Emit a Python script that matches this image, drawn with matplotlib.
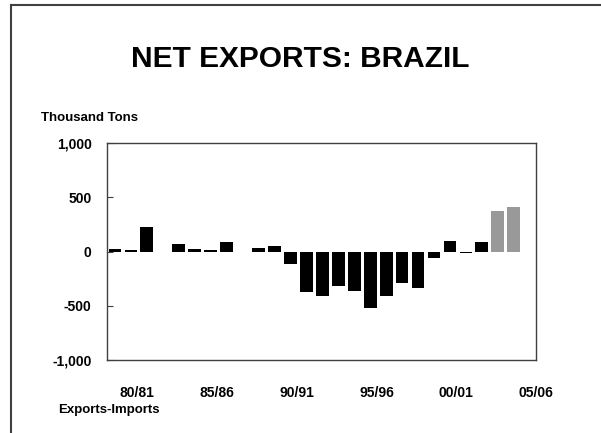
import numpy as np
import matplotlib
matplotlib.use("Agg")
import matplotlib.pyplot as plt
from matplotlib.lines import Line2D

plt.rcParams['font.family'] = ['Liberation Sans', 'DejaVu Sans']

# net exports (thousand tons), 1979/80 .. 2004/05, last two are projections
valores = [20, 12, 225, -5, 65, 25, 15, 90, 0, 30, 55, -115, -375, -410, -315,
           -360, -520, -410, -290, -335, -60, 95, -15, 85, 370, 415]
proyectados = [False] * 24 + [True, True]
etiquetas = ['80/81', '85/86', '90/91', '95/96', '00/01', '05/06']
posEtiquetas = [1, 6, 11, 16, 21, 26]
marcasY = [-1000, -500, 0, 500, 1000]

fig = plt.figure(figsize=(6.01, 4.33), dpi=100)
ax = fig.add_axes([0.178, 0.1686, 0.714, 0.501])

x = np.arange(len(valores))
colores = ['#999999' if p else 'black' for p in proyectados]
ax.bar(x, valores, width=0.8, color=colores)

ax.set_xlim(-0.5, len(valores) - 0.5)
ax.set_ylim(-1000, 1000)
ax.set_yticks(marcasY)
ax.set_yticklabels([f'{v:,}' for v in marcasY], fontsize=10, fontweight='bold')
ax.tick_params(axis='y', direction='in', length=4, pad=11, color='#404040')

ax.set_xticks([p + 0.4 for p in posEtiquetas])
ax.set_xticklabels(etiquetas, fontsize=10, fontweight='bold')
ax.tick_params(axis='x', length=0, pad=19)

for s in ax.spines.values():
    s.set_color('#404040')
    s.set_linewidth(1)

fig.text(0.499, 0.863, 'NET EXPORTS: BRAZIL', ha='center', va='center',
         fontsize=21.5, fontweight='bold')
fig.text(0.069, 0.727, 'Thousand Tons', ha='left', va='center',
         fontsize=9.5, fontweight='bold')
fig.text(0.181, 0.053, 'Exports-Imports', ha='center', va='center',
         fontsize=9.5, fontweight='bold')

# marco de la figura (solo arriba e izquierda son visibles)
fig.add_artist(Line2D([11/601, 1], [1 - 5/433, 1 - 5/433], color='#404040', lw=1.5))
fig.add_artist(Line2D([11/601, 11/601], [0, 1 - 5/433], color='#404040', lw=1.5))

fig.savefig('out.png', dpi=100)
